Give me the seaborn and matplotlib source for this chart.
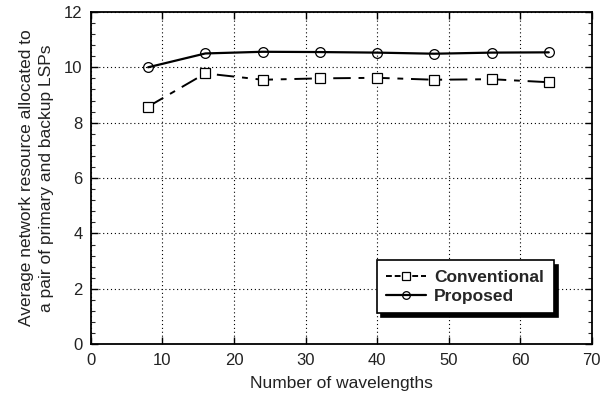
import matplotlib
matplotlib.use("Agg")
import matplotlib.pyplot as plt
import seaborn as sns
import pandas as pd
from matplotlib.ticker import MultipleLocator

wavelengths = [8, 16, 24, 32, 40, 48, 56, 64]
conventional = [8.58, 9.78, 9.55, 9.6, 9.62, 9.55, 9.57, 9.46]
proposed = [10.0, 10.5, 10.56, 10.55, 10.53, 10.49, 10.53, 10.54]
x_ticks = [0, 10, 20, 30, 40, 50, 60, 70]
y_ticks = [0, 2, 4, 6, 8, 10, 12]

sns.set_theme(style="ticks")
plt.rcParams['font.family'] = ['Liberation Sans', 'DejaVu Sans']

fig = plt.figure(figsize=(6.1, 3.97), dpi=100)
ax = fig.add_axes([0.149, 0.133, 0.821, 0.837])

df_c = pd.DataFrame({"x": wavelengths, "y": conventional})
df_p = pd.DataFrame({"x": wavelengths, "y": proposed})

sns.lineplot(data=df_c, x="x", y="y", ax=ax, color="black", marker="s",
             markersize=6.5, markerfacecolor="white", markeredgecolor="black",
             markeredgewidth=0.9, linewidth=1.4, label="Conventional")
ax.lines[-1].set_linestyle((0, (9, 4, 3, 4)))
sns.lineplot(data=df_p, x="x", y="y", ax=ax, color="black", marker="o",
             markersize=7, markerfacecolor="none", markeredgecolor="black",
             markeredgewidth=0.9, linewidth=1.6, label="Proposed")

ax.set_xlim(0, 70)
ax.set_ylim(0, 12)
ax.set_xticks(x_ticks)
ax.set_yticks(y_ticks)
ax.yaxis.set_minor_locator(MultipleLocator(0.4))
ax.tick_params(axis='both', which='major', direction='in', length=5, width=1,
               labelsize=12, labelcolor='#222222', colors='black',
               top=True, right=True, pad=6)
ax.tick_params(axis='y', which='minor', direction='in', length=3, width=0.8,
               left=True, right=True)
ax.grid(True, which='major', linestyle=(0, (1, 2.5)), color='black', linewidth=0.8)
for s in ax.spines.values():
    s.set_color('black')
    s.set_linewidth(1.3)

ax.set_xlabel("Number of wavelengths", fontsize=12.5, color='#222222', labelpad=6)
ax.set_ylabel("Average network resource allocated to\na pair of primary and backup LSPs",
              fontsize=12.5, color='#222222', labelpad=7, linespacing=1.4)

leg = ax.legend(loc='lower left', bbox_to_anchor=(0.571, 0.093), frameon=True,
                fancybox=False, edgecolor='black', framealpha=1,
                shadow={'ox': 3, 'oy': -3, 'color': 'black', 'alpha': 1},
                prop={'weight': 'bold', 'size': 12.5}, handlelength=2.3,
                handletextpad=0.45, borderpad=0.55, labelspacing=0.2,
                borderaxespad=0)
leg.get_frame().set_linewidth(1.2)
for h in leg.get_lines():
    h.set_markersize(5.5)
leg.get_lines()[0].set_linestyle((0, (3, 1.5)))

fig.savefig("out.png", dpi=100)
